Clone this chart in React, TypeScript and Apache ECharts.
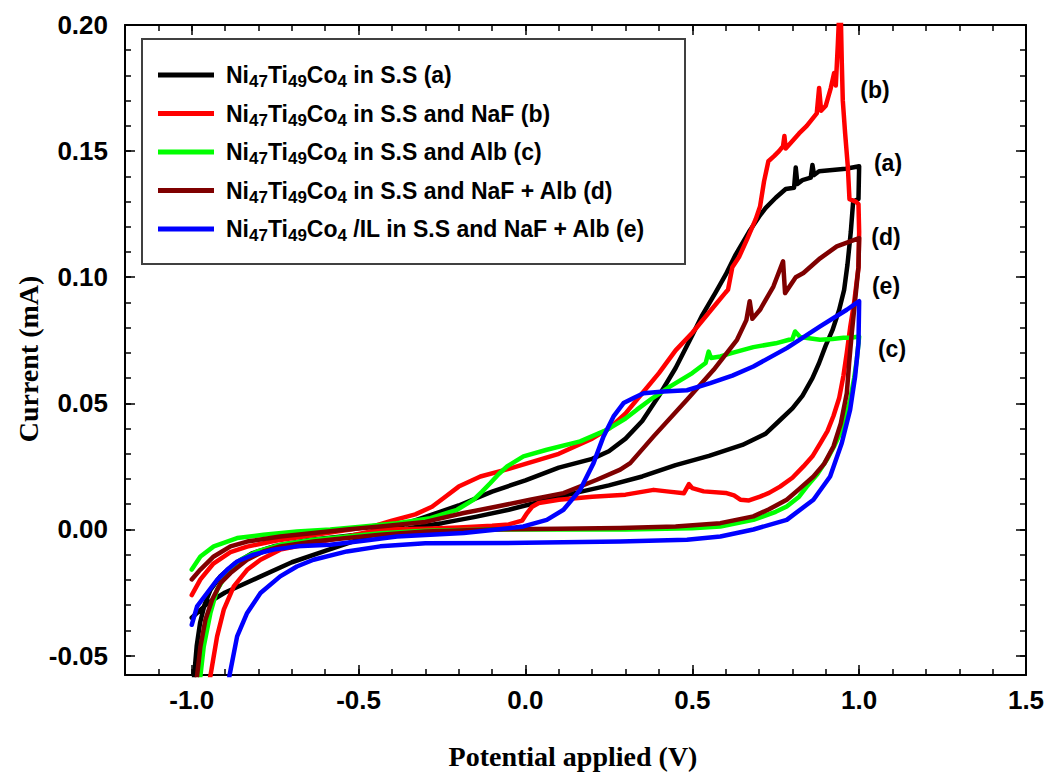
import React, { useEffect, useRef } from 'react';
import * as echarts from 'echarts';

// ---------- tick values ----------
const xMajorTicks = [-1.0, -0.5, 0.0, 0.5, 1.0, 1.5];
const xMinorTicks = [-1.2, -1.1, -1.0, -0.9, -0.8, -0.7, -0.6, -0.5, -0.4, -0.3, -0.2, -0.1, 0.0,
  0.1, 0.2, 0.3, 0.4, 0.5, 0.6, 0.7, 0.8, 0.9, 1.0, 1.1, 1.2, 1.3, 1.4, 1.5];
const yMajorTicks = [-0.05, 0.0, 0.05, 0.1, 0.15, 0.2];
const yMinorTicks = [-0.05, -0.04, -0.03, -0.02, -0.01, 0.0, 0.01, 0.02, 0.03, 0.04, 0.05, 0.06, 0.07,
  0.08, 0.09, 0.1, 0.11, 0.12, 0.13, 0.14, 0.15, 0.16, 0.17, 0.18, 0.19, 0.2];

// ---------- series names / tags ----------
const seriesNames = [
  'Ni47Ti49Co4 in S.S (a)',
  'Ni47Ti49Co4 in S.S and NaF (b)',
  'Ni47Ti49Co4 in S.S and Alb (c)',
  'Ni47Ti49Co4 in S.S and NaF + Alb (d)',
  'Ni47Ti49Co4 /IL in S.S and NaF + Alb (e)',
];
const curveTags = ['(a)', '(b)', '(c)', '(d)', '(e)'];

// ---------- data: [potential (V), current (mA)] ----------
const curveA = [
  [-0.994, -0.06], [-0.985, -0.046], [-0.975, -0.037], [-0.962, -0.03], [-0.944, -0.024], [-0.914, -0.0185],
  [-0.87, -0.0135], [-0.82, -0.0095], [-0.75, -0.0065], [-0.65, -0.0042], [-0.55, -0.0028], [-0.45, -0.0012],
  [-0.35, 0.0005], [-0.25, 0.0025], [-0.15, 0.005], [-0.05, 0.0078], [0.05, 0.0112], [0.15, 0.0145],
  [0.25, 0.0175], [0.35, 0.021], [0.45, 0.0255], [0.55, 0.0292], [0.65, 0.0335], [0.72, 0.038],
  [0.76, 0.043], [0.8, 0.048], [0.83, 0.053], [0.86, 0.06], [0.88, 0.066], [0.9, 0.073], [0.92, 0.079],
  [0.94, 0.087], [0.955, 0.095], [0.965, 0.105], [0.975, 0.118], [0.982, 0.13], [0.998, 0.131], [1.0, 0.144],
  [0.96, 0.143], [0.92, 0.1425], [0.88, 0.142], [0.865, 0.1405], [0.86, 0.1445], [0.855, 0.1395],
  [0.83, 0.1385], [0.815, 0.137], [0.81, 0.1435], [0.805, 0.1355], [0.78, 0.135], [0.75, 0.1315],
  [0.72, 0.1275], [0.7, 0.124], [0.67, 0.118], [0.63, 0.109], [0.6, 0.101], [0.57, 0.094], [0.53, 0.085],
  [0.5, 0.077], [0.45, 0.064], [0.4, 0.053], [0.35, 0.043], [0.3, 0.036], [0.25, 0.031], [0.2, 0.028],
  [0.1, 0.0245], [0.0, 0.0195], [-0.1, 0.015], [-0.2, 0.0095], [-0.3, 0.005], [-0.4, 0.0005],
  [-0.5, -0.004], [-0.6, -0.0085], [-0.7, -0.013], [-0.8, -0.019], [-0.9, -0.025], [-0.95, -0.029],
  [-1.0, -0.035],
];

const curveB = [
  [-1.0, -0.026], [-0.974, -0.0198], [-0.935, -0.0135], [-0.884, -0.009], [-0.834, -0.0068], [-0.75, -0.0045],
  [-0.65, -0.0025], [-0.55, -0.0005], [-0.45, 0.0015], [-0.4, 0.0035], [-0.33, 0.006], [-0.28, 0.009],
  [-0.24, 0.013], [-0.2, 0.017], [-0.135, 0.021], [-0.05, 0.024], [0.0, 0.026], [0.1, 0.03], [0.2, 0.036],
  [0.25, 0.04], [0.3, 0.046], [0.35, 0.054], [0.4, 0.062], [0.45, 0.071], [0.5, 0.078], [0.55, 0.086],
  [0.6, 0.094], [0.607, 0.095], [0.62, 0.104], [0.64, 0.108], [0.664, 0.115], [0.69, 0.123], [0.703, 0.128],
  [0.715, 0.138], [0.728, 0.146], [0.745, 0.148], [0.76, 0.15], [0.772, 0.152], [0.776, 0.156], [0.78, 0.151],
  [0.8, 0.154], [0.82, 0.157], [0.843, 0.16], [0.873, 0.165], [0.88, 0.175], [0.886, 0.166], [0.9, 0.168],
  [0.915, 0.175], [0.925, 0.181], [0.93, 0.176], [0.936, 0.192], [0.94, 0.204], [0.945, 0.204],
  [0.948, 0.185], [0.951, 0.17], [0.958, 0.157], [0.966, 0.144], [0.971, 0.131], [0.99, 0.13],
  [0.998, 0.129], [1.0, 0.118], [0.998, 0.104], [0.985, 0.09], [0.973, 0.08], [0.963, 0.07], [0.953, 0.061],
  [0.94, 0.052], [0.923, 0.045], [0.905, 0.039], [0.883, 0.034], [0.86, 0.029], [0.833, 0.025], [0.8, 0.0205],
  [0.763, 0.017], [0.73, 0.0145], [0.703, 0.013], [0.67, 0.0115], [0.644, 0.0118], [0.625, 0.0135],
  [0.6, 0.0145], [0.534, 0.0151], [0.5, 0.0164], [0.49, 0.018], [0.475, 0.0144], [0.43, 0.015],
  [0.384, 0.0157], [0.3, 0.0138], [0.2, 0.013], [0.1, 0.0118], [0.04, 0.0105], [0.02, 0.009], [0.005, 0.0065],
  [-0.01, 0.0035], [-0.05, 0.002], [-0.1, 0.0015], [-0.2, 0.0008], [-0.3, 0.0003], [-0.435, 0.0],
  [-0.535, -0.0028], [-0.635, -0.0054], [-0.735, -0.008], [-0.794, -0.012], [-0.834, -0.016],
  [-0.874, -0.0226], [-0.904, -0.0318], [-0.924, -0.0424], [-0.944, -0.058], [-0.95, -0.062],
];

const curveC = [
  [-1.0, -0.0159], [-0.974, -0.0107], [-0.934, -0.0067], [-0.864, -0.0034], [-0.785, -0.0021],
  [-0.685, -0.0008], [-0.585, 0.0], [-0.485, 0.0012], [-0.385, 0.0025], [-0.285, 0.0045], [-0.205, 0.0078],
  [-0.155, 0.0118], [-0.13, 0.015], [-0.105, 0.0184], [-0.08, 0.022], [-0.055, 0.025], [-0.006, 0.029],
  [0.064, 0.0316], [0.164, 0.0349], [0.244, 0.0395], [0.3, 0.044], [0.334, 0.0475], [0.38, 0.052],
  [0.434, 0.0567], [0.5, 0.062], [0.54, 0.066], [0.549, 0.0705], [0.556, 0.068], [0.584, 0.0686],
  [0.62, 0.07], [0.683, 0.0723], [0.75, 0.0738], [0.79, 0.0752], [0.8, 0.0755], [0.808, 0.0785],
  [0.823, 0.0763], [0.85, 0.0758], [0.883, 0.0752], [0.92, 0.0755], [0.953, 0.076], [0.975, 0.076],
  [1.0, 0.0765], [0.993, 0.0673], [0.985, 0.06], [0.973, 0.0514], [0.96, 0.045], [0.943, 0.038],
  [0.925, 0.033], [0.903, 0.0276], [0.875, 0.022], [0.843, 0.017], [0.82, 0.013], [0.783, 0.0091],
  [0.75, 0.007], [0.683, 0.0038], [0.584, 0.0012], [0.5, 0.0005], [0.3, 0.0], [0.1, 0.0], [-0.1, 0.0],
  [-0.3, -0.0005], [-0.435, -0.0015], [-0.535, -0.0028], [-0.635, -0.0041], [-0.735, -0.0061],
  [-0.804, -0.0087], [-0.854, -0.012], [-0.894, -0.0173], [-0.924, -0.0239], [-0.944, -0.0331],
  [-0.964, -0.0464], [-0.974, -0.058], [-0.977, -0.062],
];

const curveD = [
  [-1.0, -0.0198], [-0.974, -0.0159], [-0.934, -0.0107], [-0.884, -0.0067], [-0.834, -0.0048],
  [-0.735, -0.0028], [-0.635, -0.0014], [-0.535, 0.0], [-0.435, 0.0012], [-0.3, 0.003], [-0.185, 0.0065],
  [-0.085, 0.0091], [0.014, 0.0118], [0.114, 0.0144], [0.214, 0.0197], [0.284, 0.0237], [0.314, 0.0263],
  [0.384, 0.0369], [0.484, 0.0514], [0.564, 0.0633], [0.634, 0.0752], [0.662, 0.083], [0.672, 0.0905],
  [0.68, 0.0835], [0.703, 0.0871], [0.743, 0.0963], [0.772, 0.1063], [0.778, 0.0937], [0.81, 0.1],
  [0.833, 0.1017], [0.883, 0.1075], [0.933, 0.1122], [1.0, 0.1155], [0.998, 0.104], [0.988, 0.091],
  [0.978, 0.078], [0.97, 0.066], [0.963, 0.054], [0.945, 0.042], [0.923, 0.0329], [0.895, 0.026],
  [0.863, 0.021], [0.82, 0.016], [0.783, 0.0118], [0.73, 0.008], [0.683, 0.0052], [0.584, 0.0025],
  [0.45, 0.0012], [0.284, 0.0006], [0.1, 0.0003], [-0.1, 0.0], [-0.3, -0.0008], [-0.435, -0.0021],
  [-0.535, -0.0034], [-0.635, -0.0048], [-0.735, -0.0067], [-0.785, -0.0087], [-0.834, -0.012],
  [-0.884, -0.0173], [-0.914, -0.0213], [-0.939, -0.0279], [-0.959, -0.0358], [-0.974, -0.0464],
  [-0.984, -0.058], [-0.987, -0.062],
];

const curveE = [
  [-1.0, -0.0378], [-0.984, -0.0305], [-0.954, -0.0252], [-0.924, -0.02], [-0.894, -0.016], [-0.864, -0.0127],
  [-0.815, -0.01], [-0.755, -0.008], [-0.685, -0.0067], [-0.585, -0.0061], [-0.485, -0.0045],
  [-0.385, -0.0028], [-0.285, -0.0021], [-0.185, -0.0014], [-0.085, 0.0], [-0.006, 0.0012], [0.064, 0.0038],
  [0.114, 0.0078], [0.164, 0.0157], [0.204, 0.0263], [0.234, 0.0369], [0.264, 0.0448], [0.294, 0.0501],
  [0.324, 0.0521], [0.354, 0.054], [0.414, 0.0547], [0.484, 0.0552], [0.554, 0.058], [0.62, 0.061],
  [0.683, 0.0646], [0.783, 0.0719], [0.883, 0.0805], [0.963, 0.0871], [1.0, 0.0905], [0.998, 0.0739],
  [0.988, 0.0607], [0.973, 0.0475], [0.948, 0.0343], [0.913, 0.021], [0.863, 0.0118], [0.783, 0.0038],
  [0.683, 0.0], [0.584, -0.0028], [0.484, -0.0041], [0.284, -0.0048], [0.0, -0.0053], [-0.3, -0.0055],
  [-0.435, -0.0067], [-0.535, -0.0087], [-0.635, -0.012], [-0.685, -0.0147], [-0.735, -0.0186],
  [-0.794, -0.0252], [-0.834, -0.0331], [-0.864, -0.0424], [-0.887, -0.058], [-0.89, -0.062],
];

const curves = [curveA, curveB, curveC, curveD, curveE];
const colors = ['#000000', '#ff0000', '#00ff00', '#7f0000', '#0000ff'];

const SANS = "'Liberation Sans', Arial, sans-serif";
const SERIF = "'Liberation Serif', 'Times New Roman', serif";

const X_MIN = -1.2;
const X_MAX = 1.5;
const Y_MIN = -0.0577;
const Y_MAX = 0.2;

function makeX(position: string, ticks: number[], len: number, labels: boolean, line: boolean) {
  return {
    type: 'value', gridIndex: 0, position, min: X_MIN, max: X_MAX,
    axisLine: { show: line, onZero: false, lineStyle: { color: '#000', width: 2 } },
    axisTick: { show: true, inside: true, length: len, customValues: ticks, lineStyle: { color: '#000', width: 1.5 } },
    axisLabel: {
      show: labels, customValues: xMajorTicks, margin: 12,
      formatter: (v: number) => v.toFixed(1),
      color: '#000', fontSize: 26, fontWeight: 'bold', fontFamily: SANS,
    },
    splitLine: { show: false },
  };
}

function makeY(position: string, ticks: number[], len: number, labels: boolean, line: boolean) {
  return {
    type: 'value', gridIndex: 0, position, min: Y_MIN, max: Y_MAX,
    axisLine: { show: line, onZero: false, lineStyle: { color: '#000', width: 2 } },
    axisTick: { show: true, inside: true, length: len, customValues: ticks, lineStyle: { color: '#000', width: 1.5 } },
    axisLabel: {
      show: labels, customValues: yMajorTicks, margin: 17,
      formatter: (v: number) => v.toFixed(2),
      color: '#000', fontSize: 26, fontWeight: 'bold', fontFamily: SANS,
    },
    splitLine: { show: false },
  };
}

const tagPositions = [
  [888, 163], [875, 90], [892, 349], [886, 237], [886, 286],
];

export default function App() {
  const ref = useRef<HTMLDivElement>(null);
  useEffect(() => {
    const chart = echarts.init(ref.current as HTMLDivElement, null, { renderer: 'svg', width: 1047, height: 776 });
    const option: any = {
      animation: false,
      backgroundColor: '#ffffff',
      grid: { left: 125, top: 25, width: 901, height: 650, containLabel: false, outerBoundsMode: 'none' },
      xAxis: [
        makeX('bottom', xMajorTicks, 10, true, true),
        makeX('bottom', xMinorTicks, 6, false, false),
        makeX('top', xMajorTicks, 10, false, true),
        makeX('top', xMinorTicks, 6, false, false),
      ],
      yAxis: [
        makeY('left', yMajorTicks, 10, true, true),
        makeY('left', yMinorTicks, 6, false, false),
        makeY('right', yMajorTicks, 10, false, true),
        makeY('right', yMinorTicks, 6, false, false),
      ],
      legend: {
        show: true,
        orient: 'vertical',
        left: 158,
        top: 60,
        padding: 0,
        itemWidth: 56,
        itemHeight: 5,
        itemGap: 8.5,
        icon: 'rect',
        selectedMode: false,
        data: seriesNames,
        z: 10,
        formatter: (name: string) =>
          '{n1|Ni}{s|47}{n|Ti}{s|49}{n|Co}{s|4}{n|' + name.slice('Ni47Ti49Co4'.length) + '}',
        textStyle: {
          color: '#000', fontSize: 23, fontWeight: 'bold', fontFamily: SANS, lineHeight: 30,
          rich: {
            n1: { color: '#000', fontSize: 23, fontWeight: 'bold', fontFamily: SANS, lineHeight: 30, padding: [0, 0, 0, 7] },
            n: { color: '#000', fontSize: 23, fontWeight: 'bold', fontFamily: SANS, lineHeight: 30 },
            s: { color: '#000', fontSize: 17, fontWeight: 'bold', fontFamily: SANS, lineHeight: 14, verticalAlign: 'bottom' },
          },
        },
      },
      graphic: [
        {
          type: 'rect', z: 5,
          shape: { x: 142, y: 39, width: 543, height: 225 },
          style: { fill: '#ffffff', stroke: '#404040', lineWidth: 2 },
        },
        {
          type: 'text', x: 573, y: 756, z: 5,
          style: {
            text: 'Potential applied (V)', textAlign: 'center', textVerticalAlign: 'middle',
            fill: '#000', font: `bold 28px ${SERIF}`,
          },
        },
        {
          type: 'text', x: 28, y: 359, rotation: Math.PI / 2, z: 5,
          style: {
            text: 'Current (mA)', textAlign: 'center', textVerticalAlign: 'middle',
            fill: '#000', font: `bold 28px ${SERIF}`,
          },
        },
        ...curveTags.map((t, i) => ({
          type: 'text', x: tagPositions[i][0], y: tagPositions[i][1], z: 5,
          style: {
            text: t, textAlign: 'center', textVerticalAlign: 'middle',
            fill: '#000', font: `bold 23px ${SANS}`,
          },
        })),
      ],
      series: curves.map((c, i) => ({
        name: seriesNames[i],
        type: 'line',
        xAxisIndex: 0,
        yAxisIndex: 0,
        data: c,
        showSymbol: false,
        symbol: 'none',
        clip: true,
        color: colors[i],
        lineStyle: { color: colors[i], width: 4.5, join: 'round', cap: 'round' },
        itemStyle: { color: colors[i] },
        emphasis: { disabled: true },
        z: 2 + i * 0.01,
      })),
    };
    chart.setOption(option);
    return () => chart.dispose();
  }, []);
  return (
    <div
      ref={ref}
      style={{ position: 'fixed', left: 0, top: 0, width: '1047px', height: '776px', background: '#fff' }}
    />
  );
}
